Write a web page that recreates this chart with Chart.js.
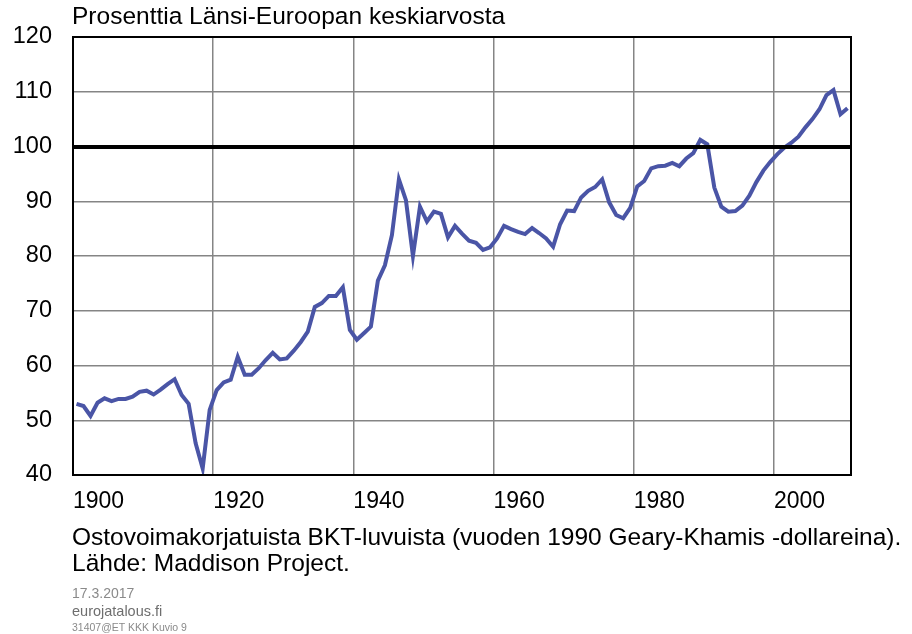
<!DOCTYPE html>
<html>
<head>
<meta charset="utf-8">
<script src="https://cdn.jsdelivr.net/npm/chart.js@4.4.1/dist/chart.umd.min.js"></script>
<style>
  html, body { margin: 0; padding: 0; background: #fff; }
  #wrap { position: relative; width: 912px; height: 634px; overflow: hidden; font-family: "Liberation Sans", Arial, sans-serif; }
  canvas { position: absolute; left: 0; top: 0; }
  .txt { position: absolute; white-space: nowrap; color: #000; }
</style>
</head>
<body>
<div id="wrap">
  <canvas id="c" width="912" height="634"></canvas>
  <div class="txt" id="title" style="left:72px; top:2px; font-size:24.5px; line-height:28px;">Prosenttia Länsi-Euroopan keskiarvosta</div>
  <div class="txt" style="left:72px; top:523px; font-size:24.5px; line-height:28px;">Ostovoimakorjatuista BKT-luvuista (vuoden 1990 Geary-Khamis -dollareina).</div>
  <div class="txt" style="left:72px; top:549px; font-size:24.5px; line-height:28px;">Lähde: Maddison Project.</div>
  <div class="txt" style="left:72px; top:585px; font-size:14px; line-height:16px; color:#8a8a8a;">17.3.2017</div>
  <div class="txt" style="left:72px; top:603px; font-size:14.5px; line-height:16px; color:#6e6e6e;">eurojatalous.fi</div>
  <div class="txt" style="left:72px; top:621px; font-size:10.5px; line-height:12px; color:#8a8a8a;">31407@ET KKK Kuvio 9</div>
</div>
<script>
// Years 1900..2010
const years = [
  1900,1901,1902,1903,1904,1905,1906,1907,1908,1909,
  1910,1911,1912,1913,1914,1915,1916,1917,1918,1919,
  1920,1921,1922,1923,1924,1925,1926,1927,1928,1929,
  1930,1931,1932,1933,1934,1935,1936,1937,1938,1939,
  1940,1941,1942,1943,1944,1945,1946,1947,1948,1949,
  1950,1951,1952,1953,1954,1955,1956,1957,1958,1959,
  1960,1961,1962,1963,1964,1965,1966,1967,1968,1969,
  1970,1971,1972,1973,1974,1975,1976,1977,1978,1979,
  1980,1981,1982,1983,1984,1985,1986,1987,1988,1989,
  1990,1991,1992,1993,1994,1995,1996,1997,1998,1999,
  2000,2001,2002,2003,2004,2005,2006,2007,2008,2009,
  2010
];
// Finland GDP per capita, % of Western European average
const finlandPct = [
  53.0,52.6,50.8,53.2,54.0,53.5,53.9,53.9,54.3,55.2,
  55.4,54.7,55.6,56.6,57.5,54.6,53.0,45.8,41.2,51.9,
  55.5,56.9,57.4,61.6,58.3,58.3,59.5,61.0,62.3,61.1,
  61.3,62.7,64.3,66.2,70.7,71.4,72.7,72.7,74.3,66.5,
  64.7,65.9,67.1,75.5,78.3,83.8,94.0,90.2,80.0,89.0,
  86.3,88.1,87.7,83.4,85.5,84.1,82.8,82.4,81.1,81.6,
  83.2,85.5,84.9,84.4,84.0,85.1,84.2,83.2,81.7,85.8,
  88.3,88.2,90.7,91.9,92.6,94.0,89.8,87.5,86.9,88.8,
  92.7,93.7,96.0,96.4,96.5,97.0,96.4,97.8,98.8,101.2,
  100.4,92.5,89.0,88.1,88.2,89.2,91.0,93.5,95.6,97.2,
  98.6,99.8,100.7,101.8,103.5,105.0,106.8,109.4,110.3,105.9,
  107.0
];
const xTickLabels = ["1900","1920","1940","1960","1980","2000"];
const yTicks = [40,50,60,70,80,90,100,110,120];
const referenceLevel = 100;

const firstYear = years[0], lastYear = years[years.length - 1];

const frameAndReference = {
  id: 'frameAndReference',
  afterDatasetsDraw(chart) {
    const {ctx, chartArea: a, scales: {y}} = chart;
    ctx.save();
    const ry = Math.round(y.getPixelForValue(referenceLevel));
    ctx.strokeStyle = '#000';
    ctx.lineWidth = 4;
    ctx.beginPath();
    ctx.moveTo(a.left, ry);
    ctx.lineTo(a.right, ry);
    ctx.stroke();
    ctx.lineWidth = 2;
    ctx.strokeRect(a.left, a.top, a.right - a.left, a.bottom - a.top);
    ctx.restore();
  }
};

new Chart(document.getElementById('c'), {
  type: 'line',
  data: {
    datasets: [{
      data: years.map((yr, i) => ({x: yr, y: finlandPct[i]})),
      borderColor: '#4a55a6',
      borderWidth: 4,
      pointRadius: 0,
      tension: 0,
      fill: false
    }]
  },
  options: {
    responsive: false,
    devicePixelRatio: 1,
    animation: false,
    layout: { padding: { left: 0, right: 61, top: 37, bottom: 99 } },
    plugins: { legend: { display: false }, tooltip: { enabled: false }, title: { display: false } },
    scales: {
      x: {
        type: 'linear',
        min: firstYear - 0.5,
        max: lastYear + 0.5,
        afterBuildTicks(scale) {
          scale.ticks = xTickLabels.map(l => ({ value: Number(l) - 0.5 }));
        },
        afterFit(scale) { scale.height = 60; },
        grid: { color: '#858585', lineWidth: 1.5, drawTicks: false },
        border: { display: false },
        ticks: {
          autoSkip: false,
          maxRotation: 0,
          minRotation: 0,
          align: 'start',
          padding: 13,
          color: '#000',
          font: { family: '"Liberation Sans", Arial, sans-serif', size: 23 },
          callback: (v) => String(Math.round(v + 0.5))
        }
      },
      y: {
        type: 'linear',
        min: yTicks[0],
        max: yTicks[yTicks.length - 1],
        afterBuildTicks(scale) { scale.ticks = yTicks.map(v => ({ value: v })); },
        afterFit(scale) { scale.width = 73; },
        grid: { color: '#858585', lineWidth: 1.5, drawTicks: false },
        border: { display: false },
        ticks: {
          padding: 21,
          color: '#000',
          font: { family: '"Liberation Sans", Arial, sans-serif', size: 23.5 }
        }
      }
    }
  },
  plugins: [frameAndReference]
});
</script>
</body>
</html>
